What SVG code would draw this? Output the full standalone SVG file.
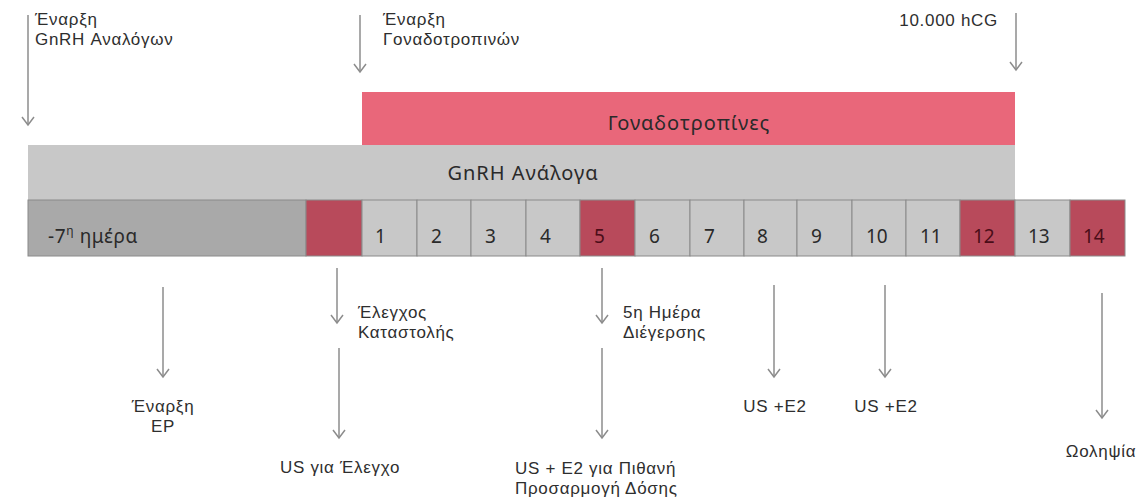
<svg xmlns="http://www.w3.org/2000/svg" width="1146" height="499" viewBox="0 0 1146 499">
<defs>
<style>
.t{font-family:"Liberation Sans","Noto Sans",sans-serif;fill:#2e2e2e;font-size:17px;letter-spacing:0.7px}
.n{font-family:"Noto Sans","Liberation Sans",sans-serif;fill:#2a2a2a;font-size:19px}
.nr{font-family:"Noto Sans","Liberation Sans",sans-serif;fill:#4a0d18;font-size:19px}
.b{font-family:"Noto Sans","Liberation Sans",sans-serif;fill:#2a2a2a;font-size:20px;letter-spacing:1px}
.cell{fill:#c8c8c8;stroke:#8a8a8a;stroke-width:1}
.red{fill:#b84a5b;stroke:#8a8a8a;stroke-width:1}
.arr{stroke:#8c8c8c;stroke-width:1.5;fill:none}
</style>
</defs>
<g id="connectors">
<path class="arr" d="M28,15 V125"/><polyline class="arr" points="22,117 28,125 34,117"/>
<path class="arr" d="M360,15 V72"/><polyline class="arr" points="354,64 360,72 366,64"/>
<path class="arr" d="M1016,13 V70"/><polyline class="arr" points="1010,62 1016,70 1022,62"/>
<path class="arr" d="M163,287 V377"/><polyline class="arr" points="157,369 163,377 169,369"/>
<path class="arr" d="M337,268 V323"/><polyline class="arr" points="331,315 337,323 343,315"/>
<path class="arr" d="M339,348 V438"/><polyline class="arr" points="333,430 339,438 345,430"/>
<path class="arr" d="M602,268 V323"/><polyline class="arr" points="596,315 602,323 608,315"/>
<path class="arr" d="M602,348 V438"/><polyline class="arr" points="596,430 602,438 608,430"/>
<path class="arr" d="M774,285 V377"/><polyline class="arr" points="768,369 774,377 780,369"/>
<path class="arr" d="M885,285 V377"/><polyline class="arr" points="879,369 885,377 891,369"/>
<path class="arr" d="M1102,293 V418"/><polyline class="arr" points="1096,410 1102,418 1108,410"/>
</g>
<g id="gonadotropins-bar">
<rect x="362" y="92" width="653" height="53" fill="#e9677a"/>
<text class="b" x="689" y="130" text-anchor="middle">Γοναδοτροπίνες</text>
</g>
<g id="gnrh-bar">
<rect x="28" y="145" width="987" height="55" fill="#c8c8c8"/>
<text class="b" x="523" y="180" text-anchor="middle">GnRH Ανάλογα</text>
</g>
<g id="day-minus7">
<rect x="28" y="200" width="278" height="56" fill="#a9a9a9" stroke="#8a8a8a"/>
<text class="n" x="48" y="243" font-size="20" letter-spacing="0.6">-7<tspan font-size="12" dy="-8">η</tspan><tspan dy="8"> ημέρα</tspan></text>
</g>
<g id="day-0"><rect class="red" x="306" y="200" width="56" height="56"/></g>
<g id="day-1"><rect class="cell" x="362" y="200" width="55" height="56"/><text class="n" x="375" y="243">1</text></g>
<g id="day-2"><rect class="cell" x="417" y="200" width="54" height="56"/><text class="n" x="431" y="243">2</text></g>
<g id="day-3"><rect class="cell" x="471" y="200" width="55" height="56"/><text class="n" x="485" y="243">3</text></g>
<g id="day-4"><rect class="cell" x="526" y="200" width="54" height="56"/><text class="n" x="540" y="243">4</text></g>
<g id="day-5"><rect class="red" x="580" y="200" width="55" height="56"/><text class="nr" x="594" y="243">5</text></g>
<g id="day-6"><rect class="cell" x="635" y="200" width="55" height="56"/><text class="n" x="649" y="243">6</text></g>
<g id="day-7"><rect class="cell" x="690" y="200" width="54" height="56"/><text class="n" x="704" y="243">7</text></g>
<g id="day-8"><rect class="cell" x="744" y="200" width="53" height="56"/><text class="n" x="757" y="243">8</text></g>
<g id="day-9"><rect class="cell" x="797" y="200" width="55" height="56"/><text class="n" x="811" y="243">9</text></g>
<g id="day-10"><rect class="cell" x="852" y="200" width="54" height="56"/><text class="n" x="866" y="243">10</text></g>
<g id="day-11"><rect class="cell" x="906" y="200" width="54" height="56"/><text class="n" x="920" y="243">11</text></g>
<g id="day-12"><rect class="red" x="960" y="200" width="55" height="56"/><text class="nr" x="973" y="243">12</text></g>
<g id="day-13"><rect class="cell" x="1015" y="200" width="55" height="56"/><text class="n" x="1028" y="243">13</text></g>
<g id="day-14"><rect class="red" x="1070" y="200" width="55" height="56"/><text class="nr" x="1083" y="243">14</text></g>
<g id="label-gnrh-start"><text class="t" x="35" y="25">Έναρξη</text><text class="t" x="35" y="45">GnRH Αναλόγων</text></g>
<g id="label-gonad-start"><text class="t" x="383" y="25">Έναρξη</text><text class="t" x="383" y="45">Γοναδοτροπινών</text></g>
<g id="label-hcg"><text class="t" x="998" y="26" text-anchor="end">10.000 hCG</text></g>
<g id="label-ep"><text class="t" x="163" y="412" text-anchor="middle">Έναρξη</text><text class="t" x="163" y="432" text-anchor="middle">EP</text></g>
<g id="label-suppression"><text class="t" x="358" y="318">Έλεγχος</text><text class="t" x="358" y="338">Καταστολής</text></g>
<g id="label-us-check"><text class="t" x="340" y="473" text-anchor="middle">US για Έλεγχο</text></g>
<g id="label-day5"><text class="t" x="623" y="318">5η Ημέρα</text><text class="t" x="623" y="338">Διέγερσης</text></g>
<g id="label-dose"><text class="t" x="515" y="474">US + E2 για Πιθανή</text><text class="t" x="515" y="494">Προσαρμογή Δόσης</text></g>
<g id="label-us8"><text class="t" x="775" y="412" text-anchor="middle">US +E2</text></g>
<g id="label-us10"><text class="t" x="886" y="412" text-anchor="middle">US +E2</text></g>
<g id="label-retrieval"><text class="t" x="1101" y="457" text-anchor="middle">Ωοληψία</text></g>
</svg>
